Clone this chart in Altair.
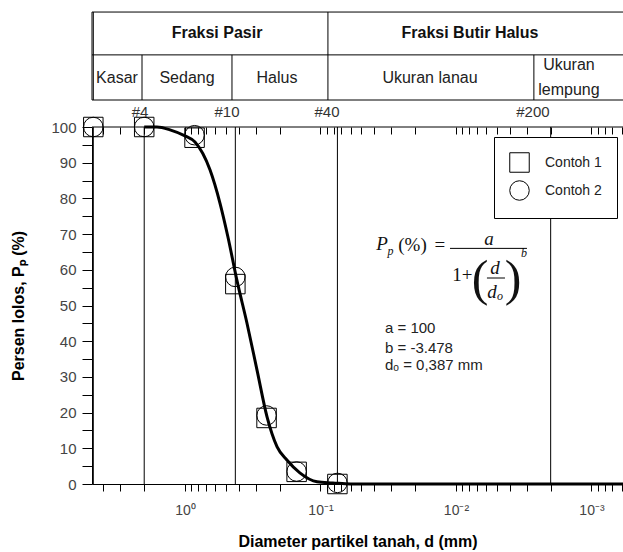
import altair as alt
import pandas as pd

# ---------------- data ----------------
sieve_d = [4.75, 2.0, 0.85, 0.425, 0.25, 0.15, 0.075]          # mm
contoh1 = [100, 100, 97.0, 56.0, 18.5, 3.4, 0.0]               # % passing (squares)
contoh2 = [100, 100, 97.7, 58.0, 19.2, 3.5, 0.3]               # % passing (circles)
series_names = ["Contoh 1", "Contoh 2"]

# fitted curve
curve_d = [2.0, 1.61, 1.29, 1.0, 0.844, 0.654, 0.552, 0.482, 0.414, 0.349,
           0.294, 0.248, 0.209, 0.177, 0.142, 0.106, 0.081, 0.06, 0.000585]
curve_p = [100, 100, 99.2, 97.5, 95.8, 88.0, 78.7, 69.2, 57.1, 45.1,
           31.9, 18.8, 10.4, 6.7, 3.1, 0.6, 0.3, 0.0, 0.0]

boundary_d = [4.75, 2.0, 0.425, 0.075, 0.002]
sieve_labels = ["#4", "#10", "#40", "#200"]
sieve_label_d = [2.148, 0.4898, 0.08954, 0.002703]

x_min, x_max = 0.000585, 4.857
x_ticks = [4, 3, 2, 1] + [k * 10.0 ** e for e in (-1, -2, -3, -4) for k in (9, 8, 7, 6, 5, 4, 3, 2, 1)]
x_ticks = [round(v, 6) for v in x_ticks if x_min <= v <= x_max]
x_tick_labels = {1: "10⁰", 0.1: "10⁻¹", 0.01: "10⁻²", 0.001: "10⁻³"}
y_ticks = list(range(0, 101, 5))

# header table (in data units of the chart)
table_y = [132.2, 120.2, 107.56]
table_full_x = [x_max, 4.75, 0.0881]
table_low_x = [2.076, 0.450, 0.00266]
head_text = ["Fraksi Pasir", "Fraksi Butir Halus"]
head_d = [0.5804, 0.00788]
head_p = [126.3, 126.3]
sub_text = ["Kasar", "Sedang", "Halus", "Ukuran lanau", "Ukuran", "lempung"]
sub_d = [3.176, 0.9666, 0.2094, 0.01555, 0.001466, 0.001466]
sub_p = [113.7, 113.7, 113.7, 113.7, 117.3, 110.5]

# equation and parameters
par_text = ["a = 100", "b = -3.478", "dₒ = 0,387 mm"]
par_d = [0.03342, 0.03342, 0.03342]
par_p = [43.7, 38.1, 33.3]
eq_it_text = ["P", "a", "d", "d"]
eq_it_d = [0.03516, 0.005706, 0.005153, 0.005424]
eq_it_p = [67.2, 68.6, 60.5, 53.8]
eq_sm_text = ["p", "o", "b"]
eq_sm_d = [0.03043, 0.004735, 0.003148]
eq_sm_p = [65.4, 52.7, 64.7]
eq_rm_text = ["(%)", "=", "1+"]
eq_rm_d = [0.02094, 0.01313, 0.008954]
eq_rm_p = [66.95, 66.95, 58.5]
eq_par_text = ["(", ")"]
eq_par_d = [0.006652, 0.003796]
eq_par_p = [57.1, 57.1]
frac_d1 = [0.01107, 0.005906]
frac_d2 = [0.002992, 0.004348]
frac_p = [66.0, 57.7]

SANS = "Liberation Sans"
SERIF = "Liberation Serif"

# ---------------- scales / axes ----------------
xscale = alt.Scale(type="log", domain=[x_min, x_max], reverse=True, nice=False)
yscale = alt.Scale(domain=[0, 100], nice=False, zero=False)

label_expr = " : ".join(f"datum.value == {k} ? '{v}'" for k, v in x_tick_labels.items()) + " : ''"

bottom_axis = alt.Axis(values=x_ticks, labelExpr=label_expr, tickSize=7, tickColor="black",
                       domainColor="black", labelFontSize=14, labelFont=SANS, labelColor="#444",
                       labelPadding=12, labelOverlap=False, grid=False,
                       title="Diameter partikel tanah, d (mm)", titleFont=SANS, titleFontSize=16,
                       titleFontWeight="bold", titleColor="black", titlePadding=16)
top_axis = alt.Axis(orient="top", values=x_ticks, labels=False, domain=False, tickSize=7,
                    tickColor="black", offset=-7, grid=False, title=None)
y_axis = alt.Axis(values=y_ticks, labelExpr="datum.value % 10 == 0 ? datum.label : ''",
                  tickSize=10, tickColor="black", domainColor="black", labelFontSize=15,
                  labelFont=SANS, labelColor="#444", labelPadding=6, labelOverlap=False, grid=False,
                  title="Persen lolos, Pₚ (%)", titleFont=SANS, titleFontSize=16,
                  titleFontWeight="bold", titleColor="black", titlePadding=24)


def X(field="d", axis=None):
    return alt.X(f"{field}:Q", scale=xscale, axis=axis)


def Y(field="p", axis=None):
    return alt.Y(f"{field}:Q", scale=yscale, axis=axis)


# ---------------- layers ----------------
df_bound = pd.DataFrame({"d": boundary_d, "p": [0] * len(boundary_d), "p2": [100] * len(boundary_d)})
vlines = alt.Chart(df_bound).mark_rule(color="black", strokeWidth=1).encode(x=X(), y=Y(), y2="p2:Q")

df_top = pd.DataFrame({"d": [x_max], "d2": [x_min], "p": [100]})
topline = alt.Chart(df_top).mark_rule(color="black", strokeWidth=1).encode(
    x=X(axis=top_axis), x2="d2:Q", y=Y())

df_pts = pd.DataFrame({
    "d": sieve_d + sieve_d,
    "p": contoh1 + contoh2,
    "series": [series_names[0]] * len(sieve_d) + [series_names[1]] * len(sieve_d),
})
points = alt.Chart(df_pts).mark_point(filled=False, size=380, strokeWidth=1, opacity=1).encode(
    x=X(axis=bottom_axis), y=Y(axis=y_axis),
    color=alt.value("black"),
    shape=alt.Shape("series:N", scale=alt.Scale(domain=series_names, range=["square", "circle"]),
                    legend=alt.Legend(title=None, orient="none", legendX=402, legendY=10,
                                      strokeColor="black", fillColor="white", padding=15,
                                      symbolSize=380, symbolStrokeWidth=1, symbolStrokeColor="black",
                                      symbolFillColor="white", labelFontSize=14, labelFont=SANS,
                                      labelColor="#222", rowPadding=3, labelOffset=15)),
)

df_curve = pd.DataFrame({"d": curve_d, "p": curve_p, "i": list(range(len(curve_d)))})
curve = alt.Chart(df_curve).mark_line(color="black", strokeWidth=3, interpolate="monotone").encode(
    x=X(), y=Y(), order="i:Q")

# header table lines
df_h = pd.DataFrame({"d": [x_max] * 3, "d2": [x_min] * 3, "p": table_y})
hlines = alt.Chart(df_h).mark_rule(color="black", strokeWidth=1).encode(x=X(), x2="d2:Q", y=Y())
df_vf = pd.DataFrame({"d": table_full_x, "p": [table_y[2]] * 3, "p2": [table_y[0]] * 3})
vfull = alt.Chart(df_vf).mark_rule(color="black", strokeWidth=1).encode(x=X(), y=Y(), y2="p2:Q")
df_vl = pd.DataFrame({"d": table_low_x, "p": [table_y[2]] * 3, "p2": [table_y[1]] * 3})
vlow = alt.Chart(df_vl).mark_rule(color="black", strokeWidth=1).encode(x=X(), y=Y(), y2="p2:Q")


def text_layer(texts, ds, ps, **kw):
    df = pd.DataFrame({"t": texts, "d": ds, "p": ps})
    return alt.Chart(df).mark_text(**kw).encode(x=X(), y=Y(), text="t:N")


head = text_layer(head_text, head_d, head_p, font=SANS, fontSize=16, fontWeight="bold",
                  color="#111", baseline="middle", align="center")
sub = text_layer(sub_text, sub_d, sub_p, font=SANS, fontSize=16, color="#222",
                 baseline="middle", align="center")
sieves = text_layer(sieve_labels, sieve_label_d, [104.2] * 4, font=SANS, fontSize=15,
                    color="#333", baseline="middle", align="center")
params = text_layer(par_text, par_d, par_p, font=SANS, fontSize=15, color="#222",
                    baseline="middle", align="left")
eq_it = text_layer(eq_it_text, eq_it_d, eq_it_p, font=SERIF, fontSize=19, fontStyle="italic",
                   color="#111", baseline="middle", align="center")
eq_sm = text_layer(eq_sm_text, eq_sm_d, eq_sm_p, font=SERIF, fontSize=12, fontStyle="italic",
                   color="#111", baseline="middle", align="center")
eq_rm = text_layer(eq_rm_text, eq_rm_d, eq_rm_p, font=SERIF, fontSize=19, color="#111",
                   baseline="middle", align="center")
eq_par = text_layer(eq_par_text, eq_par_d, eq_par_p, font=SERIF, fontSize=50, color="#111",
                    baseline="middle", align="center")
df_frac = pd.DataFrame({"d": frac_d1, "d2": frac_d2, "p": frac_p})
frac = alt.Chart(df_frac).mark_rule(color="black", strokeWidth=1).encode(x=X(), x2="d2:Q", y=Y())

chart = alt.layer(
    vlines, topline, hlines, vfull, vlow, points, curve,
    head, sub, sieves, params, eq_it, eq_sm, eq_rm, eq_par, frac,
).resolve_axis(x="independent", y="independent").properties(
    width=531, height=357,
    padding={"left": 92, "top": 127, "right": 0, "bottom": 68},
    autosize=alt.AutoSizeParams(type="none"),
    background="white",
).configure_view(stroke=None)

chart.save("out.html", embed_options={"renderer": "svg", "actions": False})
